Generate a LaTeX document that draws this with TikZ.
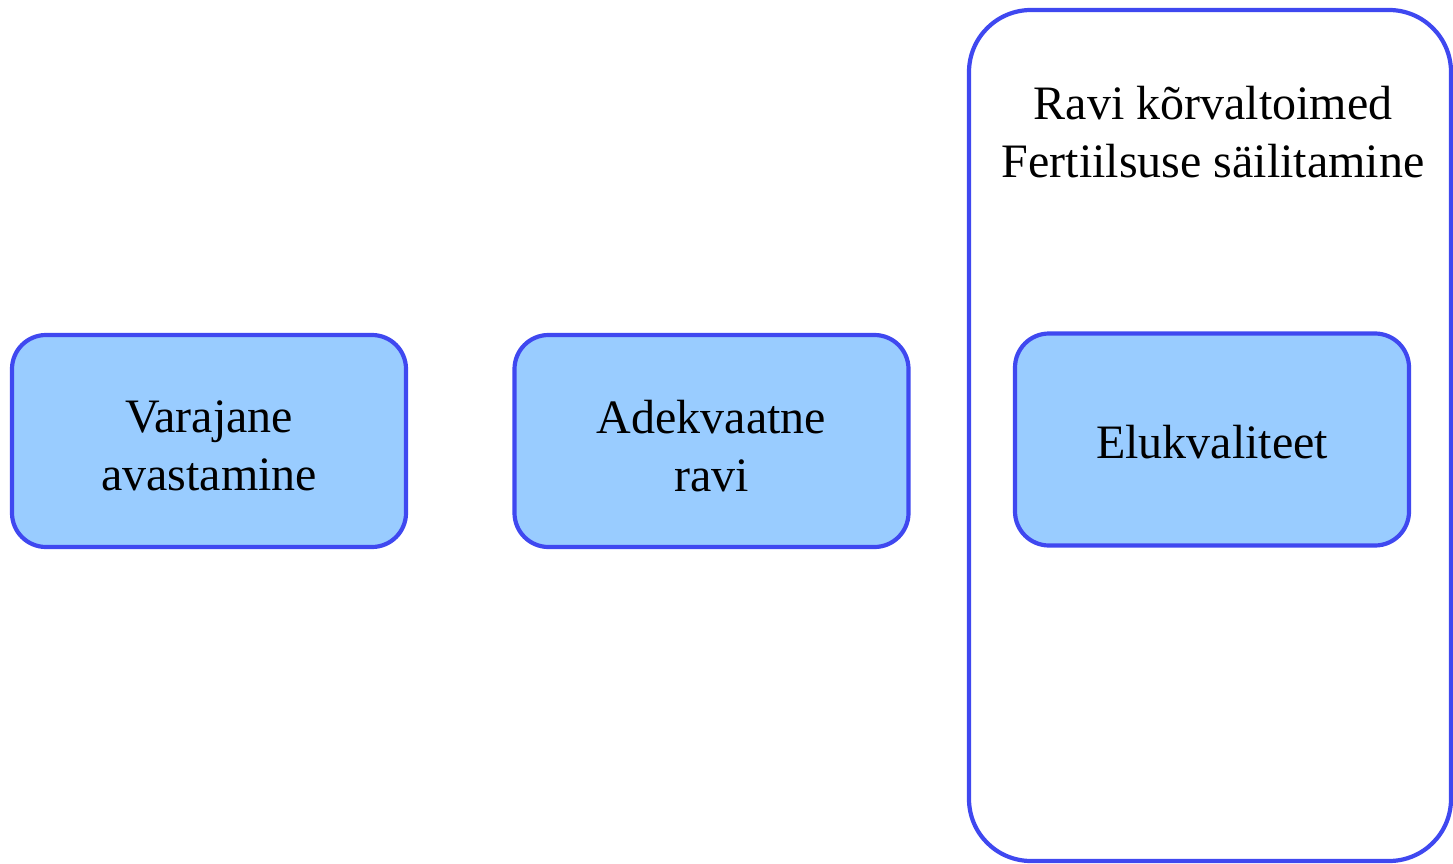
\documentclass[tikz,border=0pt]{standalone}
\usepackage{fontspec}
\setmainfont{Liberation Serif}
\definecolor{edgeblue}{HTML}{3F48F0}
\definecolor{boxfill}{HTML}{99CCFF}
\begin{document}
\begin{tikzpicture}[x=1pt,y=-1pt,
  stage/.style={draw=edgeblue, fill=boxfill, line width=4.2pt, rounded corners=34pt,
    minimum width=394pt, minimum height=212pt, inner sep=0pt},
  stagetext/.style={align=center, inner sep=0pt, font=\fontsize{48}{57.6}\selectfont},
  frame/.style={draw=edgeblue, line width=4.2pt, rounded corners=62pt,
    minimum width=482pt, minimum height=851pt, inner sep=0pt},
  title/.style={align=center, inner sep=0pt, font=\fontsize{48}{57.6}\selectfont}]
\useasboundingbox (0,0) rectangle (1453,864);
\node[frame] (outer) at (1210,435.5) {};
\node[title] (ttl) at (1213,132) {Ravi kõrvaltoimed\\Fertiilsuse säilitamine};
\node[stage, label={[stagetext, yshift=-5pt]center:{Varajane\\avastamine}}] (early) at (209,441) {};
\node[stage, label={[stagetext, yshift=-5pt]center:{Adekvaatne\\ravi}}] (treat) at (711.5,441) {};
\node[stage, label={[stagetext, yshift=-3pt]center:{Elukvaliteet}}] (life) at (1212,439.5) {};
\end{tikzpicture}
\end{document}
